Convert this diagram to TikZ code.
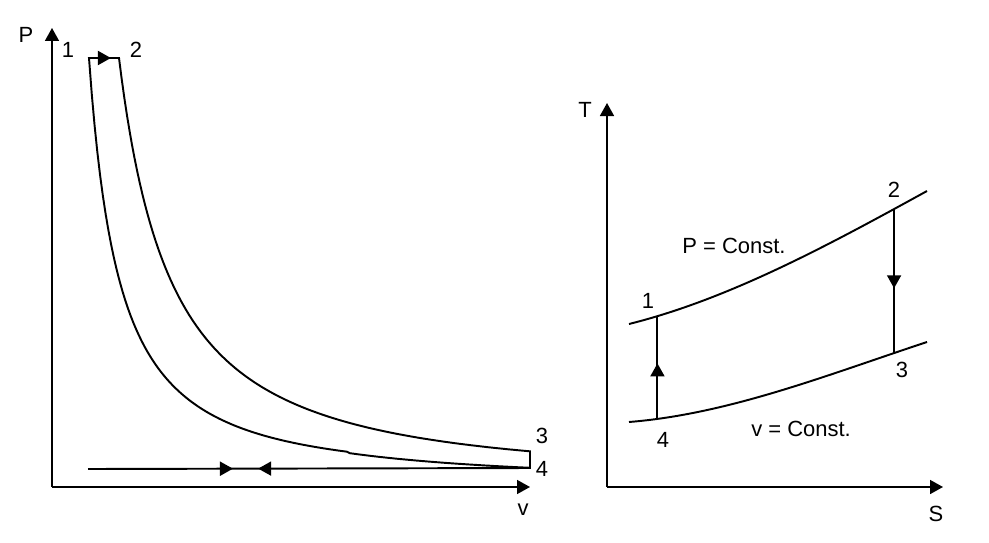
\documentclass[tikz,border=0pt]{standalone}
\usepackage{fontspec}
\setmainfont{Liberation Sans}
\usepackage{tikz}
\usetikzlibrary{arrows.meta,decorations.markings}

\begin{document}
\begin{tikzpicture}[
  x=0.2mm, y=-0.2mm,
  font=\fontsize{12.5}{15}\selectfont,
  >={Triangle[length=2.6mm, width=2.8mm]},
  % Line styles
  axis/.style={line width=0.9pt, ->},
  proc/.style={line width=1.1pt, line join=miter},
  midarrow/.style={postaction={decorate}, decoration={markings, mark=at position #1 with {\arrow{>}}}},
  lbl/.style={inner sep=0pt, anchor=center}
]
  \useasboundingbox (0,0) rectangle (989,542);

  % P-v diagram: axes
  \coordinate (pvO) at (52,487);
  \coordinate (pvP) at (52,28);
  \coordinate (pvV) at (530,487);
  \draw[axis] (pvO) -- (pvP);
  \draw[axis] (pvO) -- (pvV);
  \node[lbl] (labP) at (26,35) {P};
  \node[lbl] (labv) at (523,510) {v};

  % P-v diagram: states
  \coordinate (pv1) at (89,58);
  \coordinate (pv2) at (119,58);
  \coordinate (pv3) at (530,452);
  \coordinate (pv4) at (530,468);
  \coordinate (pv0) at (88,469);

  % P-v diagram: cycle 1-2-3-4 (polytropic curves)
  \draw[proc] plot[variable=\v, domain=478:37, samples=160] ({52+\v}, {487-429*(37/\v)^1.218})
    -- (pv2)
    -- plot[variable=\v, domain=67:478, samples=160] ({52+\v}, {487-429*(67/\v)^1.2755})
    -- (pv3) -- cycle;
  \draw[proc, midarrow=0.73] (pv1) -- (pv2);
  \draw[proc, postaction={decorate}, decoration={markings,
      mark=at position 0.328 with {\arrow{>}},
      mark=at position 0.385 with {\arrowreversed{>}}}] (pv0) -- (pv4);

  \node[lbl] (lpv1) at (68,50) {1};
  \node[lbl] (lpv2) at (136,50) {2};
  \node[lbl] (lpv3) at (542,436) {3};
  \node[lbl] (lpv4) at (542,469) {4};

  % T-S diagram: axes
  \coordinate (tsO) at (607,487);
  \coordinate (tsT) at (607,103);
  \coordinate (tsS) at (943,487);
  \draw[axis] (tsO) -- (tsT);
  \draw[axis] (tsO) -- (tsS);
  \node[lbl] (labT) at (585,110) {T};
  \node[lbl] (labS) at (936,514) {S};

  % T-S diagram: constant pressure and constant volume lines
  \draw[proc] (629,324) .. controls (729,299) and (827,246) .. (927,191)
    coordinate[pos=0.095] (ts1) coordinate[pos=0.89] (ts2);
  \draw[proc] (629,422) .. controls (729,414) and (827,375) .. (927,342)
    coordinate[pos=0.095] (ts4) coordinate[pos=0.89] (ts3);

  % T-S diagram: processes
  \draw[proc, midarrow=0.54] (ts4) -- (ts1);
  \draw[proc, midarrow=0.55] (ts2) -- (ts3);

  \node[lbl] (lts1) at (648,301) {1};
  \node[lbl] (lts2) at (894,190) {2};
  \node[lbl] (lts3) at (902,370) {3};
  \node[lbl] (lts4) at (663,440) {4};
  \node[lbl] (pconst) at (734,246) {P = Const.};
  \node[lbl] (vconst) at (801,429) {v = Const.};

\end{tikzpicture}
\end{document}
